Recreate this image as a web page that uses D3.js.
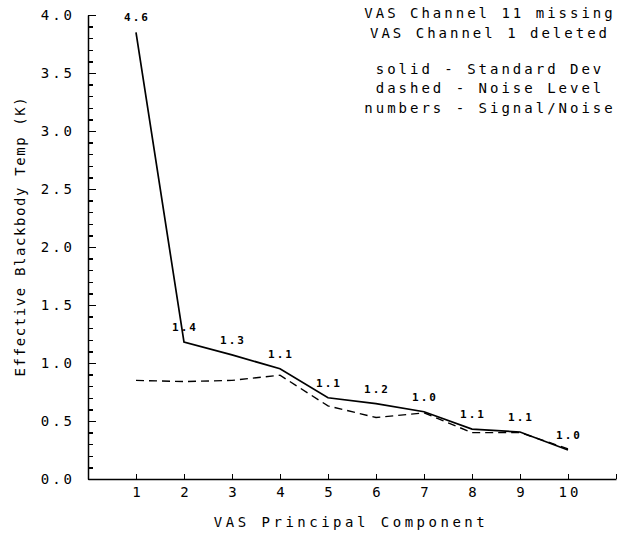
<!DOCTYPE html>
<html>
<head>
<meta charset="utf-8">
<script src="https://cdn.jsdelivr.net/npm/d3@7"></script>
<style>
  body { margin: 0; background: #fff; }
  text { font-family: "DejaVu Sans Mono", monospace; fill: #000; }
</style>
</head>
<body>
<div id="chart"></div>
<script>
// VAS principal components
var components = [1, 2, 3, 4, 5, 6, 7, 8, 9, 10];
var stdDev = [3.85, 1.18, 1.07, 0.95, 0.70, 0.65, 0.58, 0.43, 0.405, 0.25];
var noiseLevel = [0.85, 0.84, 0.85, 0.895, 0.63, 0.53, 0.57, 0.40, 0.40, 0.26];
var snrLabels = ["4.6", "1.4", "1.3", "1.1", "1.1", "1.2", "1.0", "1.1", "1.1", "1.0"];
var yTicks = [0, 0.5, 1, 1.5, 2, 2.5, 3, 3.5, 4];
var notes = ["VAS Channel 11 missing", "VAS Channel 1 deleted", "",
             "solid - Standard Dev", "dashed - Noise Level", "numbers - Signal/Noise"];

var width = 620, height = 534;

var x = d3.scaleLinear().domain([0, 11]).range([88, 616]);
var y = d3.scaleLinear().domain([0, 4]).range([479, 15]);

var svg = d3.select("#chart").append("svg")
    .attr("width", width)
    .attr("height", height);

// minor ticks on y axis (every 0.1)
svg.append("g")
    .attr("transform", "translate(" + x(0) + ",0)")
    .call(d3.axisLeft(y).ticks(40).tickSizeInner(-5).tickSizeOuter(0).tickFormat(""))
    .call(g => g.select(".domain").remove())
    .call(g => g.selectAll("line").attr("stroke", "#000").attr("stroke-width", 1.5)
      .attr("shape-rendering", "crispEdges"));

// major y axis
svg.append("g")
    .attr("transform", "translate(" + x(0) + ",0)")
    .call(d3.axisLeft(y).tickValues(yTicks).tickSizeInner(-8).tickSizeOuter(0)
      .tickPadding(13).tickFormat(d3.format(".1f")))
    .call(g => g.select(".domain").attr("stroke", "#000").attr("stroke-width", 1.5))
    .call(g => g.selectAll("line").attr("stroke", "#000").attr("stroke-width", 1.5)
      .attr("shape-rendering", "crispEdges"))
    .call(g => g.selectAll("text").attr("font-size", 14).style("letter-spacing", "3px")
      .attr("font-family", "DejaVu Sans Mono"));

// x axis
svg.append("g")
    .attr("transform", "translate(0," + y(0) + ")")
    .call(d3.axisBottom(x).tickValues(components.concat([11])).tickSizeInner(-5).tickSizeOuter(0)
      .tickPadding(8).tickFormat(d => d === 11 ? "" : d))
    .call(g => g.select(".domain").attr("stroke", "#000").attr("stroke-width", 1.5))
    .call(g => g.selectAll("line").attr("stroke", "#000").attr("stroke-width", 1.5)
      .attr("shape-rendering", "crispEdges"))
    .call(g => g.selectAll("text").attr("font-size", 14).style("letter-spacing", "3px")
      .attr("dx", "1.5px").attr("font-family", "DejaVu Sans Mono"));

var line = d3.line()
    .x(function(d, i) { return x(components[i]); })
    .y(function(d) { return y(d); });

svg.append("path")
    .datum(noiseLevel)
    .attr("fill", "none")
    .attr("stroke", "#000")
    .attr("stroke-width", 1.4)
    .attr("stroke-dasharray", "8,5")
    .attr("d", line);

svg.append("path")
    .datum(stdDev)
    .attr("fill", "none")
    .attr("stroke", "#000")
    .attr("stroke-width", 1.7)
    .attr("d", line);

// signal / noise numbers
svg.append("g").selectAll("text")
    .data(snrLabels)
    .join("text")
    .attr("x", function(d, i) { return x(components[i]) + 1; })
    .attr("y", function(d, i) { return y(stdDev[i]) - 11; })
    .attr("text-anchor", "middle")
    .attr("font-size", 11)
    .attr("font-weight", "bold")
    .style("letter-spacing", "2px")
    .text(function(d) { return d; });

// notes in the top right
svg.append("g").selectAll("text")
    .data(notes)
    .join("text")
    .attr("x", 490)
    .attr("y", function(d, i) { return 18 + i * 19.5 - (i > 2 ? 3 : 0); })
    .attr("text-anchor", "middle")
    .attr("font-size", 14)
    .style("letter-spacing", "3px")
    .text(function(d) { return d; });

// axis titles
svg.append("text")
    .attr("x", 351)
    .attr("y", 527)
    .attr("text-anchor", "middle")
    .attr("font-size", 14)
    .style("letter-spacing", "3.5px")
    .text("VAS Principal Component");

svg.append("text")
    .attr("transform", "translate(25,236) rotate(-90)")
    .attr("text-anchor", "middle")
    .attr("font-size", 14)
    .style("letter-spacing", "1.6px")
    .text("Effective Blackbody Temp (K)");
</script>
</body>
</html>
